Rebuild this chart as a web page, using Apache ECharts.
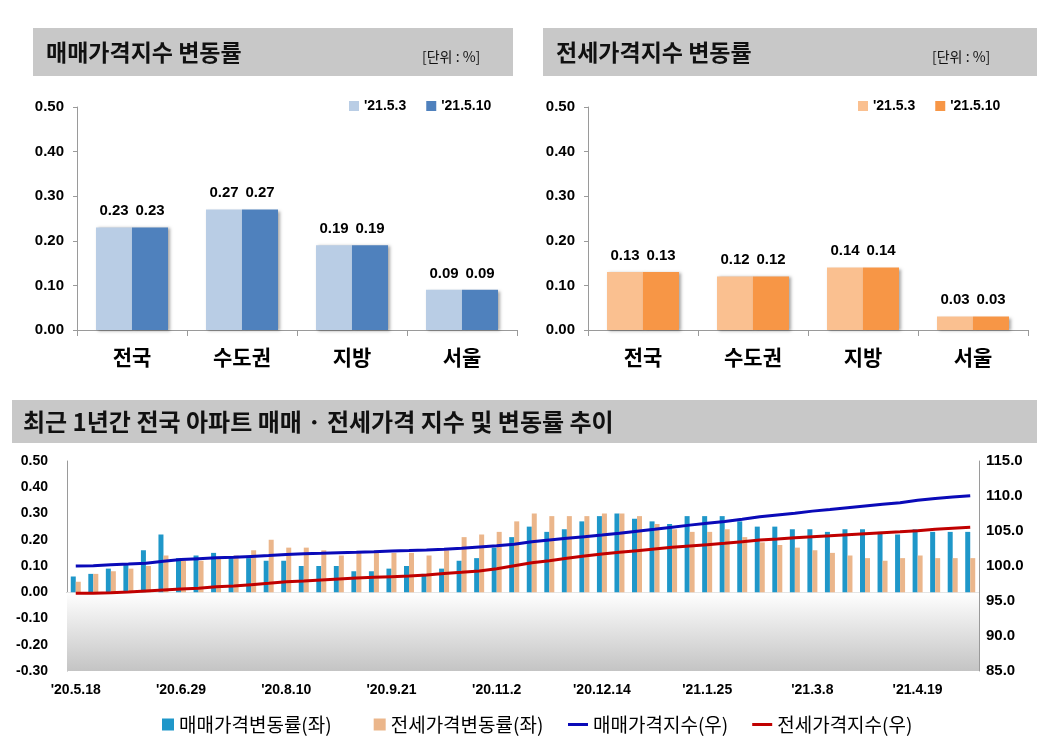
<!DOCTYPE html>
<html>
<head>
<meta charset="utf-8">
<script src="https://cdn.jsdelivr.net/npm/echarts@6/dist/echarts.min.js"></script>
<style>
html,body{margin:0;padding:0;background:#fff;}
#chart{width:1042px;height:742px;}
</style>
</head>
<body>
<div id="chart"></div>
<script>
// ---- Data ----
const regions = ['전국', '수도권', '지방', '서울'];
const weekLabels = ["'21.5.3", "'21.5.10"];
const salesPrev = [0.23, 0.27, 0.19, 0.09];
const salesCurr = [0.23, 0.27, 0.19, 0.09];
const jeonsePrev = [0.13, 0.12, 0.14, 0.03];
const jeonseCurr = [0.13, 0.12, 0.14, 0.03];

const dates = ["'20.5.18","'20.5.25","'20.6.1","'20.6.8","'20.6.15","'20.6.22","'20.6.29","'20.7.6","'20.7.13","'20.7.20",
"'20.7.27","'20.8.3","'20.8.10","'20.8.17","'20.8.24","'20.8.31","'20.9.7","'20.9.14","'20.9.21","'20.9.28",
"'20.10.5","'20.10.12","'20.10.19","'20.10.26","'20.11.2","'20.11.9","'20.11.16","'20.11.23","'20.11.30","'20.12.7",
"'20.12.14","'20.12.21","'20.12.28","'21.1.4","'21.1.11","'21.1.18","'21.1.25","'21.2.1","'21.2.8","'21.2.15",
"'21.2.22","'21.3.1","'21.3.8","'21.3.15","'21.3.22","'21.3.29","'21.4.5","'21.4.12","'21.4.19","'21.4.26",
"'21.5.3","'21.5.10"];
const salesRate = [0.06,0.07,0.09,0.11,0.16,0.22,0.13,0.14,0.15,0.13,
0.13,0.12,0.12,0.10,0.10,0.10,0.08,0.08,0.09,0.10,
0.07,0.09,0.12,0.13,0.17,0.21,0.25,0.23,0.24,0.27,
0.29,0.30,0.28,0.27,0.26,0.29,0.29,0.29,0.27,0.25,
0.25,0.24,0.24,0.23,0.24,0.24,0.23,0.22,0.24,0.23,
0.23,0.23];
const jeonseRate = [0.04,0.07,0.08,0.09,0.10,0.14,0.12,0.12,0.13,0.14,
0.16,0.20,0.17,0.17,0.16,0.14,0.15,0.15,0.15,0.15,
0.14,0.16,0.21,0.22,0.23,0.27,0.30,0.29,0.29,0.29,
0.30,0.30,0.29,0.26,0.24,0.23,0.23,0.24,0.21,0.19,
0.18,0.17,0.16,0.15,0.14,0.13,0.12,0.13,0.14,0.13,
0.13,0.13];
const salesIndex = [100.00,100.05,100.17,100.28,100.40,100.68,100.92,101.05,101.17,101.24,
101.37,101.50,101.64,101.76,101.82,101.90,101.95,102.02,102.14,102.20,
102.28,102.38,102.52,102.72,102.90,103.12,103.45,103.71,103.95,104.19,
104.43,104.68,104.98,105.24,105.52,105.84,106.10,106.35,106.67,107.03,
107.29,107.52,107.84,108.08,108.33,108.57,108.81,109.05,109.40,109.65,
109.86,110.05];
const jeonseIndex = [96.10,96.12,96.19,96.29,96.43,96.57,96.71,96.81,97.02,97.14,
97.33,97.52,97.74,97.86,98.00,98.14,98.28,98.38,98.48,98.57,
98.71,98.93,99.10,99.29,99.62,100.05,100.46,100.76,101.10,101.43,
101.71,101.95,102.19,102.43,102.67,102.86,103.05,103.24,103.48,103.71,
103.86,104.05,104.19,104.33,104.48,104.62,104.76,104.90,105.05,105.24,
105.38,105.52];
const seriesNames = ['매매가격변동률(좌)', '전세가격변동률(좌)', '매매가격지수(우)', '전세가격지수(우)'];

// ---- Styles ----
const NUM = '"Liberation Sans", Arial, "Noto Sans CJK KR", sans-serif';
const KR = '"Noto Sans CJK KR", sans-serif';
const axisGray = '#9a9a9a';

const chart = echarts.init(document.getElementById('chart'), null, {renderer: 'canvas'});

function topYAxis(gi) {
  return {
    gridIndex: gi, type: 'value', min: 0, max: 0.5, interval: 0.1,
    axisLine: {show: true, lineStyle: {color: axisGray}},
    axisTick: {show: true, length: 4, lineStyle: {color: axisGray}},
    splitLine: {show: false},
    axisLabel: {formatter: v => v.toFixed(2), color: '#000', fontWeight: 'bold', fontSize: 15, fontFamily: NUM, margin: 13}
  };
}
function topXAxis(gi) {
  return {
    gridIndex: gi, type: 'category', data: regions,
    axisLine: {show: true, lineStyle: {color: axisGray}},
    axisTick: {show: true, length: 6, lineStyle: {color: axisGray}},
    axisLabel: {color: '#000', fontWeight: 'bold', fontSize: 21, fontFamily: KR, margin: 17}
  };
}
const shadow = {shadowColor: 'rgba(0,0,0,0.35)', shadowBlur: 3, shadowOffsetX: 2, shadowOffsetY: 1};
function topBar(name, data, color, xi, yi) {
  return {
    type: 'bar', name: name, data: data, xAxisIndex: xi, yAxisIndex: yi,
    barWidth: 36, barGap: '0%',
    itemStyle: Object.assign({color: color}, shadow),
    label: {show: true, position: 'top', distance: 9, formatter: p => p.value.toFixed(2),
      color: '#000', fontWeight: 'bold', fontSize: 15, fontFamily: NUM}
  };
}

const option = {
  animation: false,
  backgroundColor: '#fff',
  graphic: [
    {type: 'rect', shape: {x: 33, y: 28, width: 480, height: 48}, style: {fill: '#c8c8c8'}, z: 0},
    {type: 'rect', shape: {x: 543, y: 28, width: 494, height: 48}, style: {fill: '#c8c8c8'}, z: 0},
    {type: 'rect', shape: {x: 12, y: 400, width: 1025, height: 43}, style: {fill: '#c8c8c8'}, z: 0}
  ],
  title: [
    {text: '매매가격지수 변동률', left: 41, top: 36, textStyle: {fontFamily: KR, fontWeight: 'bold', fontSize: 23, color: '#111'}},
    {text: '[단위 : %]', left: 417, top: 45, textStyle: {fontFamily: KR, fontWeight: 'normal', fontSize: 14, color: '#111'}},
    {text: '전세가격지수 변동률', left: 551, top: 36, textStyle: {fontFamily: KR, fontWeight: 'bold', fontSize: 23, color: '#111'}},
    {text: '[단위 : %]', left: 927, top: 45, textStyle: {fontFamily: KR, fontWeight: 'normal', fontSize: 14, color: '#111'}},
    {text: '최근 1년간 전국 아파트 매매 · 전세가격 지수 및 변동률 추이', left: 18, top: 405, textStyle: {fontFamily: KR, fontWeight: 'bold', fontSize: 24, color: '#111'}}
  ],
  legend: [
    {data: weekLabels.map(n => ({name: n, icon: 'rect'})), left: 344, top: 94, itemWidth: 10, itemHeight: 10, itemGap: 20,
      textStyle: {fontFamily: NUM, fontWeight: 'bold', fontSize: 14, color: '#000'}, selectedMode: false},
    {data: weekLabels.map(n => ({name: n + ' ', icon: 'rect'})), left: 853, top: 94, itemWidth: 10, itemHeight: 10, itemGap: 20,
      formatter: n => n.trim(),
      textStyle: {fontFamily: NUM, fontWeight: 'bold', fontSize: 14, color: '#000'}, selectedMode: false},
    {data: [{name: seriesNames[0], icon: 'rect'}, {name: seriesNames[1], icon: 'rect'}], left: 157, top: 710, itemWidth: 12, itemHeight: 12, itemGap: 42,
      textStyle: {fontFamily: KR, fontSize: 19, color: '#000'}, selectedMode: false},
    {data: [{name: seriesNames[2], icon: 'rect'}, {name: seriesNames[3], icon: 'rect'}], left: 563, top: 710, itemWidth: 20, itemHeight: 3, itemGap: 24,
      textStyle: {fontFamily: KR, fontSize: 19, color: '#000'}, selectedMode: false}
  ],
  grid: [
    {left: 77, top: 107, width: 440, height: 223},
    {left: 588, top: 107, width: 440, height: 223},
    {left: 67, top: 461, width: 912, height: 210}
  ],
  xAxis: [
    topXAxis(0),
    topXAxis(1),
    {gridIndex: 2, type: 'category', data: dates,
      axisLine: {show: true, onZero: true, lineStyle: {color: axisGray}},
      axisTick: {show: true, interval: 0, length: 5, lineStyle: {color: axisGray}},
      axisLabel: {show: false}},
    {gridIndex: 2, type: 'category', data: dates, position: 'bottom',
      axisLine: {show: false, onZero: false}, axisTick: {show: false},
      axisLabel: {interval: 5, color: '#000', fontWeight: 'bold', fontSize: 14, fontFamily: NUM, margin: 12}}
  ],
  yAxis: [
    topYAxis(0),
    topYAxis(1),
    {gridIndex: 2, type: 'value', min: -0.3, max: 0.5, interval: 0.1,
      axisLine: {show: true, lineStyle: {color: axisGray}}, axisTick: {show: false}, splitLine: {show: false},
      axisLabel: {formatter: v => v.toFixed(2), color: '#000', fontWeight: 'bold', fontSize: 14, fontFamily: NUM, margin: 19}},
    {gridIndex: 2, type: 'value', position: 'right', min: 85, max: 115, interval: 5,
      axisLine: {show: true, lineStyle: {color: axisGray}}, axisTick: {show: false}, splitLine: {show: false},
      axisLabel: {formatter: v => v.toFixed(1), color: '#000', fontWeight: 'bold', fontSize: 15, fontFamily: NUM, margin: 7}}
  ],
  series: [
    topBar(weekLabels[0], salesPrev, '#b9cde5', 0, 0),
    topBar(weekLabels[1], salesCurr, '#4f81bd', 0, 0),
    topBar(weekLabels[0] + ' ', jeonsePrev, '#fac090', 1, 1),
    topBar(weekLabels[1] + ' ', jeonseCurr, '#f79646', 1, 1),
    {type: 'bar', name: seriesNames[0], data: salesRate, xAxisIndex: 2, yAxisIndex: 2,
      barWidth: 5, barGap: '0%', itemStyle: {color: '#1f97c9'},
      markArea: {silent: true, itemStyle: {color: {type: 'linear', x: 0, y: 0, x2: 0, y2: 1,
        colorStops: [{offset: 0, color: '#ffffff'}, {offset: 1, color: '#c4c4c4'}]}},
        data: [[{yAxis: 0}, {yAxis: -0.3}]]}},
    {type: 'bar', name: seriesNames[1], data: jeonseRate, xAxisIndex: 2, yAxisIndex: 2,
      barWidth: 5, barGap: '0%', itemStyle: {color: '#ebb68b'}},
    {type: 'line', name: seriesNames[2], data: salesIndex, xAxisIndex: 2, yAxisIndex: 3,
      symbol: 'none', lineStyle: {color: '#0a0ab8', width: 3}, itemStyle: {color: '#0a0ab8'}, z: 5},
    {type: 'line', name: seriesNames[3], data: jeonseIndex, xAxisIndex: 2, yAxisIndex: 3,
      symbol: 'none', lineStyle: {color: '#c00000', width: 3}, itemStyle: {color: '#c00000'}, z: 5}
  ]
};
chart.setOption(option);
</script>
</body>
</html>
